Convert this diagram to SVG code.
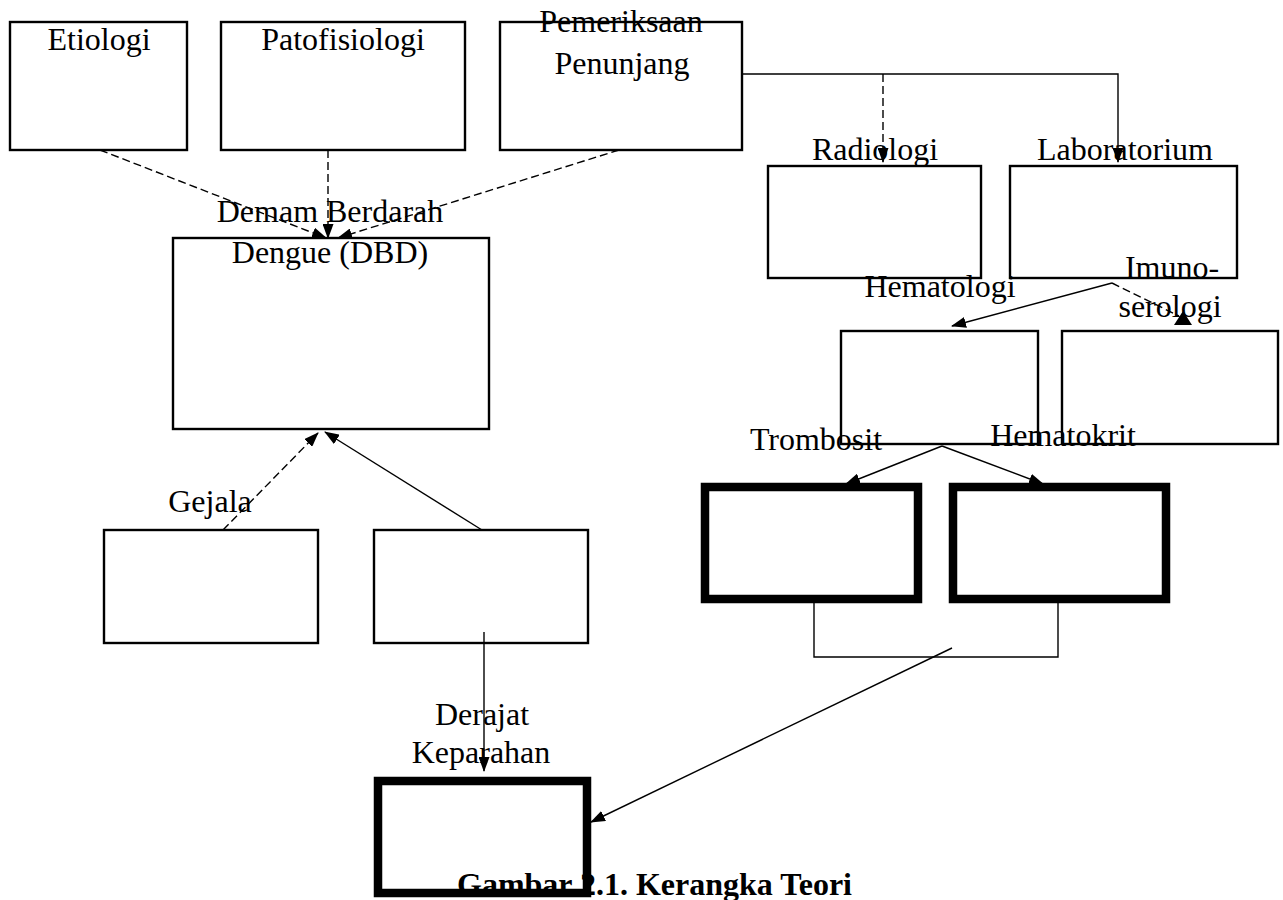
<svg xmlns="http://www.w3.org/2000/svg" width="1283" height="900" viewBox="0 0 1283 900">
<defs>
<style>
text{font-family:"Liberation Serif","Times New Roman",serif;font-size:32px;fill:#000;text-anchor:middle}
.box{fill:none;stroke:#000;stroke-width:2.4}
.thick{fill:none;stroke:#000;stroke-width:8.5}
.ln{fill:none;stroke:#000;stroke-width:1.4}
.dash{fill:none;stroke:#000;stroke-width:1.4;stroke-dasharray:8 4}
.cap{font-weight:bold;text-anchor:start}
</style>
<marker id="arr" markerWidth="15" markerHeight="11" refX="14" refY="5.5" orient="auto" markerUnits="userSpaceOnUse">
<path d="M0,0 L15,5.5 L0,11 z" fill="#000"/>
</marker>
</defs>
<rect width="1283" height="900" fill="#fff"/>
<g id="caption"><text class="cap" x="457" y="895">Gambar 2.1. Kerangka Teori</text></g>
<g id="node-etiologi">
<text x="99" y="50">Etiologi</text>
<rect class="box" x="10" y="22" width="177" height="128"/>
</g>
<g id="node-patofisiologi">
<text x="343" y="50">Patofisiologi</text>
<rect class="box" x="221" y="22" width="244" height="128"/>
</g>
<g id="node-pemeriksaan">
<text x="621" y="32">Pemeriksaan</text>
<text x="622" y="74">Penunjang</text>
<rect class="box" x="500" y="22" width="242" height="128"/>
</g>
<g id="node-radiologi">
<text x="875" y="160">Radiologi</text>
<rect class="box" x="768" y="166" width="213" height="112"/>
</g>
<g id="node-laboratorium">
<text x="1125" y="160">Laboratorium</text>
<rect class="box" x="1010" y="166" width="227" height="112"/>
</g>
<g id="node-hematologi">
<text x="940" y="297">Hematologi</text>
<rect class="box" x="841" y="331" width="197" height="113"/>
</g>
<g id="node-imunoserologi">
<text x="1172" y="278">Imuno-</text>
<text x="1170" y="317">serologi</text>
<rect class="box" x="1062" y="331" width="216" height="113"/>
</g>
<g id="node-trombosit">
<text x="816" y="450">Trombosit</text>
<rect class="thick" x="705" y="487" width="213" height="112"/>
</g>
<g id="node-hematokrit">
<text x="1063" y="446">Hematokrit</text>
<rect class="thick" x="953" y="487" width="213" height="112"/>
</g>
<g id="node-dbd">
<text x="330" y="222">Demam Berdarah</text>
<text x="330" y="263">Dengue (DBD)</text>
<rect class="box" x="173" y="238" width="316" height="191"/>
</g>
<g id="node-gejala">
<text x="210" y="512">Gejala</text>
<rect class="box" x="104" y="530" width="214" height="113"/>
</g>
<g id="node-box2">
<rect class="box" x="374" y="530" width="214" height="113"/>
</g>
<g id="node-derajat">
<text x="482" y="725">Derajat</text>
<text x="481" y="763">Keparahan</text>
<rect class="thick" x="378" y="781" width="209" height="112"/>
</g>
<g id="connectors">
<line class="dash" x1="100" y1="150" x2="326" y2="238" marker-end="url(#arr)"/>
<line class="dash" x1="328" y1="150" x2="328" y2="238" marker-end="url(#arr)"/>
<line class="dash" x1="619" y1="150" x2="338" y2="238" marker-end="url(#arr)"/>
<polyline class="ln" points="742,74 1118,74 1118,162" marker-end="url(#arr)"/>
<line class="dash" x1="883" y1="74" x2="883" y2="162" marker-end="url(#arr)"/>
<line class="ln" x1="1112" y1="283" x2="952" y2="326" marker-end="url(#arr)"/>
<line class="dash" x1="1112" y1="283" x2="1179" y2="316"/>
<polygon points="1183,311 1174,325 1192,325" fill="#000"/>
<line class="ln" x1="942" y1="446" x2="846" y2="484" marker-end="url(#arr)"/>
<line class="ln" x1="942" y1="446" x2="1043" y2="484" marker-end="url(#arr)"/>
<polyline class="ln" points="814,603 814,657 1058,657 1058,603"/>
<line class="ln" x1="952" y1="648" x2="591" y2="822" marker-end="url(#arr)"/>
<line class="dash" x1="223" y1="530" x2="318" y2="433" marker-end="url(#arr)"/>
<line class="ln" x1="482" y1="530" x2="325" y2="432" marker-end="url(#arr)"/>
<line class="ln" x1="484" y1="632" x2="484" y2="771" marker-end="url(#arr)"/>
</g>
</svg>
